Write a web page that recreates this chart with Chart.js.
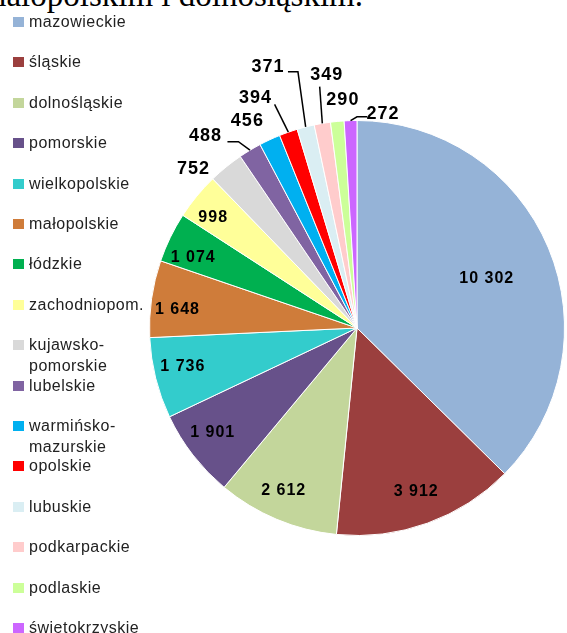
<!DOCTYPE html>
<html>
<head>
<meta charset="utf-8">
<script src="https://cdn.jsdelivr.net/npm/chart.js@4"></script>
<style>
  html, body { margin: 0; padding: 0; background: #fff; }
  #wrap { position: relative; width: 567px; height: 633px; overflow: hidden; }
  #title { position: absolute; right: 204px; top: -21px; font: 33px "Liberation Serif", serif; line-height: 33px; white-space: nowrap; color: #000; }
  #pie { position: absolute; left: 0; top: 0; }
  .item { position: absolute; left: 13px; font: 16px "Liberation Sans", Arial, sans-serif; letter-spacing: 0.5px; color: #222; line-height: 20.5px; }
  .item i { position: absolute; left: 0; top: 5px; width: 11px; height: 10px; }
  .item span { position: absolute; left: 16px; top: 0; white-space: nowrap; }
</style>
</head>
<body>
<div id="wrap">
  <div id="title">małopolskim i dolnośląskim.</div>
  <canvas id="pie" width="567" height="633"></canvas>
  <div id="legend"></div>
</div>
<script>
const regions = ["mazowieckie", "śląskie", "dolnośląskie", "pomorskie", "wielkopolskie", "małopolskie",
  "łódzkie", "zachodniopom.", "kujawsko-pomorskie", "lubelskie", "warmińsko-mazurskie", "opolskie",
  "lubuskie", "podkarpackie", "podlaskie", "świętokrzyskie"];
const counts = [10302, 3912, 2612, 1901, 1736, 1648, 1074, 998, 752, 488, 456, 394, 371, 349, 290, 272];
const colors = ["#95B3D7", "#9B3F3E", "#C3D69B", "#67518A", "#33CCCC", "#CF7C3A", "#00B050", "#FFFF99",
  "#D9D9D9", "#8064A2", "#00B0F0", "#FF0000", "#DAEEF3", "#FFCCCC", "#CCFF99", "#CC66FF"];

// label placement: angle shift from slice middle (deg) and distance as share of radius
const labelShift = [1.7, 0, 1.5, 1.7, 1.4, -2.1, -2.5, -1.8, -6.6, -7.2, -3.0, -4.5, -4.5, 2.8, 1.9, 8.7];
const labelDist = [0.67, 0.84, 0.86, 0.86, 0.86, 0.87, 0.86, 0.875, 1.10, 1.18, 1.13, 1.21, 1.33, 1.23, 1.10, 1.04];
// leader lines: start offset from label centre, horizontal stub length
const leaders = { 9: [22, 6, 11], 11: [19, 6, 0], 12: [20, 5, 10], 13: [-7, 12, 0], 15: [-16, 3, -10] };

const fmt = v => String(v).replace(/\B(?=(\d{3})+(?!\d))/g, ' ');

// legend
const legend = document.getElementById("legend");
regions.forEach((name, i) => {
  const d = document.createElement("div");
  d.className = "item";
  d.style.top = (22 + 40.4 * i - 10) + "px";
  const lines = name.includes("-") ? name.replace("-", "-<br>") : name;
  d.innerHTML = '<i style="background:' + colors[i] + '"></i><span>' + lines + '</span>';
  legend.appendChild(d);
});

const sliceLabels = {
  id: 'sliceLabels',
  afterDatasetsDraw(chart) {
    const ctx = chart.ctx;
    const arcs = chart.getDatasetMeta(0).data;
    ctx.save();
    ctx.fillStyle = "#000";
    ctx.strokeStyle = "#000";
    ctx.textAlign = "center";
    ctx.textBaseline = "middle";
    arcs.forEach((arc, i) => {
      const mid = (arc.startAngle + arc.endAngle) / 2;
      const a = mid + labelShift[i] * Math.PI / 180;
      const r = arc.outerRadius;
      const lx = arc.x + Math.cos(a) * r * labelDist[i];
      const ly = arc.y + Math.sin(a) * r * labelDist[i];
      const outside = labelDist[i] > 1;
      ctx.font = outside ? "bold 18px 'Liberation Sans', Arial" : "bold 16px 'Liberation Sans', Arial";
      ctx.letterSpacing = "1px";
      ctx.fillText(fmt(counts[i]), lx, ly);
      const ld = leaders[i];
      if (ld) {
        const ex = arc.x + Math.cos(mid) * r;
        const ey = arc.y + Math.sin(mid) * r;
        ctx.lineWidth = 1.5;
        ctx.beginPath();
        ctx.moveTo(lx + ld[0], ly + ld[1]);
        if (ld[2]) ctx.lineTo(lx + ld[0] + ld[2], ly + ld[1]);
        ctx.lineTo(ex, ey);
        ctx.stroke();
      }
    });
    ctx.restore();
  }
};

new Chart(document.getElementById("pie"), {
  type: 'pie',
  data: {
    labels: regions,
    datasets: [{
      data: counts,
      backgroundColor: colors,
      borderColor: "#fff",
      borderWidth: 1
    }]
  },
  options: {
    responsive: false,
    animation: false,
    layout: { padding: { left: 149, right: 2, top: 120, bottom: 97 } },
    plugins: {
      legend: { display: false },
      tooltip: { enabled: false }
    }
  },
  plugins: [sliceLabels]
});
</script>
</body>
</html>
